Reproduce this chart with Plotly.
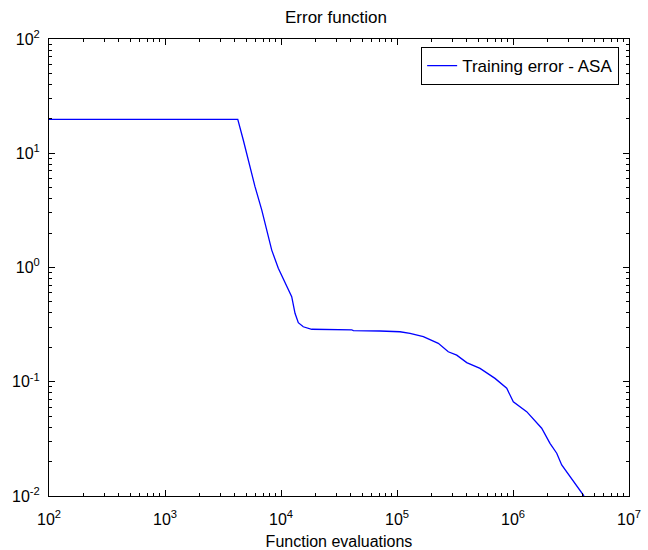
import plotly.graph_objects as go

# Training error of the ASA run versus number of function evaluations
evaluations = [100, 4240, 4730, 5400, 5970, 6820, 7530, 8320, 9480, 10820,
               12370, 13210, 14100, 15560, 18400, 40660, 42000, 71300, 106000,
               129500, 168600, 227000, 276700, 327300, 399000, 519800, 699400,
               883000, 1006000, 1312000, 1767000, 2084000, 2382000, 2630000,
               3098000, 3490000, 4090000]
training_error = [19.8, 19.8, 13.06, 7.63, 5.10, 3.19, 2.13, 1.42, 0.984, 0.727,
                  0.555, 0.397, 0.329, 0.303, 0.288, 0.285, 0.280, 0.278, 0.274,
                  0.265, 0.248, 0.217, 0.183, 0.171, 0.147, 0.131, 0.107,
                  0.0877, 0.0669, 0.0547, 0.0392, 0.0289, 0.0237, 0.0187,
                  0.0148, 0.0127, 0.0100]

x_exponents = [2, 3, 4, 5, 6, 7]
y_exponents = [-2, -1, 0, 1, 2]


def decade_ticks(exponents):
    vals = [10.0 ** e for e in exponents]
    text = ["10<sup>%d</sup>" % e for e in exponents]
    return vals, text


def minor_ticks(exponents):
    return [k * 10.0 ** e for e in exponents[:-1] for k in range(2, 10)]


x_tickvals, x_ticktext = decade_ticks(x_exponents)
y_tickvals, y_ticktext = decade_ticks(y_exponents)

family = "Liberation Sans, Arial, Helvetica, sans-serif"
font = dict(family=family, size=16, color="#000000")

fig = go.Figure()
fig.add_trace(go.Scatter(
    x=evaluations, y=training_error, mode="lines",
    name="Training error - ASA",
    line=dict(color="#0000ff", width=1.3),
))

axis_common = dict(
    type="log",
    automargin=False,
    showgrid=False,
    zeroline=False,
    showline=True,
    linecolor="#000000",
    linewidth=1,
    mirror="allticks",
    ticks="inside",
    ticklen=6,
    tickcolor="#000000",
    tickwidth=1,
    tickfont=font,
    tickmode="array",
)

fig.update_xaxes(
    **axis_common,
    range=[2, 7],
    tickvals=x_tickvals,
    ticktext=x_ticktext,
    ticklabelstandoff=9,
    minor=dict(ticks="inside", ticklen=3, tickcolor="#000000", tickwidth=1,
               tickmode="array", tickvals=minor_ticks(x_exponents), showgrid=False),
    title=dict(text="Function evaluations", font=font, standoff=8),
)
fig.update_yaxes(
    **axis_common,
    range=[-2, 2],
    tickvals=y_tickvals,
    ticktext=y_ticktext,
    ticklabelstandoff=5,
    minor=dict(ticks="inside", ticklen=3, tickcolor="#000000", tickwidth=1,
               tickmode="array", tickvals=minor_ticks(y_exponents), showgrid=False),
)

fig.update_layout(
    width=648,
    height=550,
    margin=dict(l=49, r=19, t=39, b=54),
    paper_bgcolor="#ffffff",
    plot_bgcolor="#ffffff",
    font=font,
    title=dict(text="Error function", x=336 / 648, xanchor="center",
               y=1 - 17 / 550, yanchor="middle",
               font=dict(family=family, size=17, color="#000000")),
    showlegend=True,
    legend=dict(
        x=0.983, y=0.9825, xanchor="right", yanchor="top",
        bgcolor="#ffffff", bordercolor="#000000", borderwidth=1,
        font=dict(family=family, size=17, color="#000000"),
        tracegroupgap=0,
    ),
)

fig.write_html("out.html")
